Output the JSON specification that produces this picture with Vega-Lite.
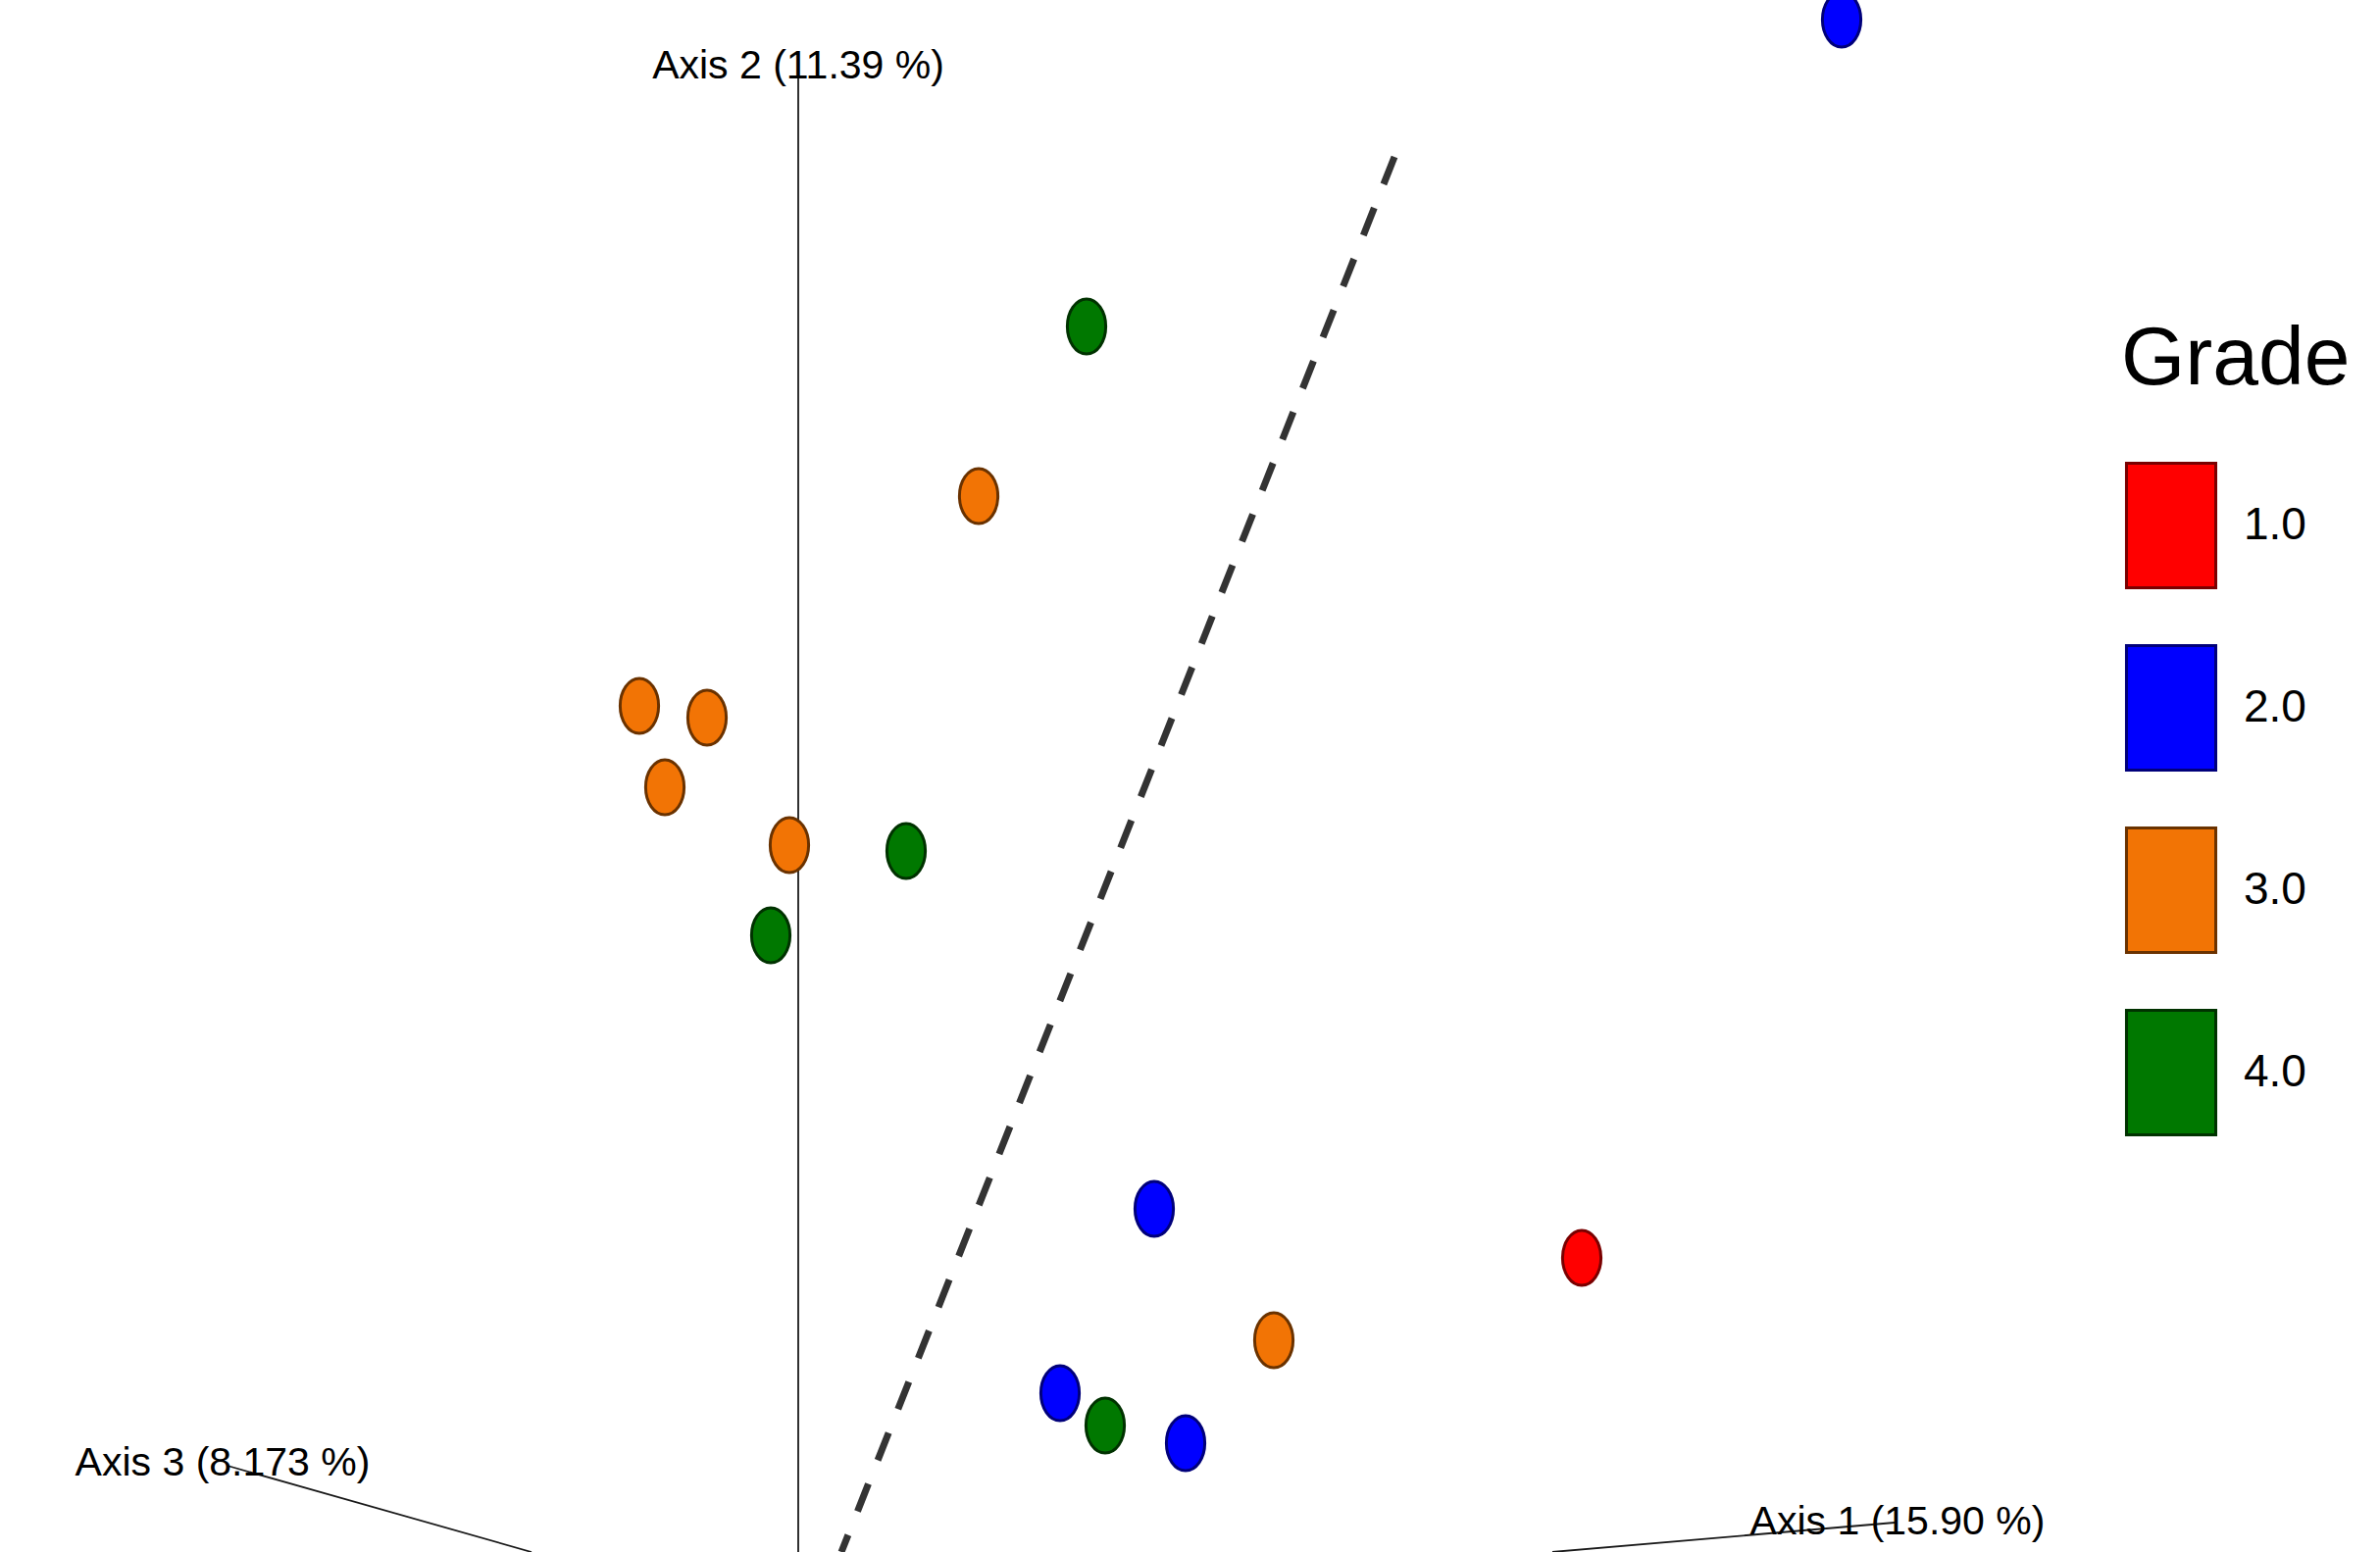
{
  "$schema": "https://vega.github.io/schema/vega-lite/v6.json",
  "width": 2427,
  "height": 1583,
  "autosize": {"type": "fit", "contains": "padding"},
  "padding": 0,
  "background": "white",
  "config": {"view": {"stroke": null}},
  "datasets": {
    "axes": [
      {"axis": "Axis 2", "x1": 814, "y1": 75, "x2": 814, "y2": 1583},
      {"axis": "Axis 3", "x1": 232, "y1": 1495, "x2": 542, "y2": 1583},
      {"axis": "Axis 1", "x1": 1583, "y1": 1583, "x2": 1932, "y2": 1553}
    ],
    "divider": [
      {"x1": 1422, "y1": 160, "x2": 858, "y2": 1583}
    ],
    "labels": [
      {"label": "Axis 2 (11.39 %)", "x": 814, "y": 80},
      {"label": "Axis 3 (8.173 %)", "x": 227, "y": 1505},
      {"label": "Axis 1 (15.90 %)", "x": 1935, "y": 1565}
    ],
    "samples": [
      {"grade": "2.0", "x": 1878, "y": 20},
      {"grade": "4.0", "x": 1108, "y": 333},
      {"grade": "3.0", "x": 998, "y": 506},
      {"grade": "3.0", "x": 652, "y": 720},
      {"grade": "3.0", "x": 721, "y": 732},
      {"grade": "3.0", "x": 678, "y": 803},
      {"grade": "3.0", "x": 805, "y": 862},
      {"grade": "4.0", "x": 924, "y": 868},
      {"grade": "4.0", "x": 786, "y": 954},
      {"grade": "2.0", "x": 1177, "y": 1233},
      {"grade": "1.0", "x": 1613, "y": 1283},
      {"grade": "3.0", "x": 1299, "y": 1367},
      {"grade": "2.0", "x": 1081, "y": 1421},
      {"grade": "4.0", "x": 1127, "y": 1454},
      {"grade": "2.0", "x": 1209, "y": 1472}
    ]
  },
  "layer": [
    {
      "data": {"name": "axes"},
      "mark": {"type": "rule", "color": "#1a1a1a", "strokeWidth": 1.8, "clip": true},
      "encoding": {
        "x": {"field": "x1", "type": "quantitative", "scale": {"domain": [0, 2427], "nice": false, "zero": false}, "axis": null},
        "y": {"field": "y1", "type": "quantitative", "scale": {"domain": [0, 1583], "nice": false, "zero": false, "reverse": true}, "axis": null},
        "x2": {"field": "x2"},
        "y2": {"field": "y2"}
      }
    },
    {
      "data": {"name": "divider"},
      "mark": {"type": "rule", "color": "#333333", "strokeWidth": 7, "strokeDash": [30, 26], "clip": true},
      "encoding": {
        "x": {"field": "x1", "type": "quantitative", "scale": {"domain": [0, 2427], "nice": false, "zero": false}, "axis": null},
        "y": {"field": "y1", "type": "quantitative", "scale": {"domain": [0, 1583], "nice": false, "zero": false, "reverse": true}, "axis": null},
        "x2": {"field": "x2"},
        "y2": {"field": "y2"}
      }
    },
    {
      "data": {"name": "samples"},
      "mark": {
        "type": "point",
        "filled": true,
        "opacity": 1,
        "clip": true,
        "shape": "M 0 -1 A 0.7 1 0 1 1 0 1 A 0.7 1 0 1 1 0 -1 Z",
        "size": 3136,
        "strokeWidth": 3
      },
      "encoding": {
        "x": {"field": "x", "type": "quantitative", "scale": {"domain": [0, 2427], "nice": false, "zero": false}, "axis": null},
        "y": {"field": "y", "type": "quantitative", "scale": {"domain": [0, 1583], "nice": false, "zero": false, "reverse": true}, "axis": null},
        "color": {
          "field": "grade",
          "type": "nominal",
          "scale": {"domain": ["1.0", "2.0", "3.0", "4.0"], "range": ["#ff0000", "#0000ff", "#f27405", "#007800"]},
          "legend": {
            "orient": "none",
            "legendX": 2163,
            "legendY": 326,
            "title": "Grade",
            "titleFont": "Liberation Sans",
            "titleFontSize": 84,
            "titleFontWeight": "normal",
            "titleColor": "#000000",
            "titleLimit": 1000,
            "titlePadding": 61,
            "symbolType": "M -0.717 -1 H 0.717 V 1 H -0.717 Z",
            "symbolSize": 16129,
            "symbolOffset": -14,
            "symbolStrokeColor": "#000000",
            "symbolStrokeWidth": 3,
            "symbolOpacity": 1,
            "labelFont": "Liberation Sans",
            "labelFontSize": 46,
            "labelColor": "#000000",
            "labelOffset": 9,
            "rowPadding": 46
          }
        },
        "stroke": {
          "field": "grade",
          "type": "nominal",
          "scale": {"domain": ["1.0", "2.0", "3.0", "4.0"], "range": ["#7a0000", "#00007a", "#6a3200", "#003200"]},
          "legend": null
        }
      }
    },
    {
      "data": {"name": "labels"},
      "mark": {"type": "text", "font": "Liberation Sans", "fontSize": 41, "color": "#000000", "align": "center", "baseline": "alphabetic"},
      "encoding": {
        "x": {"field": "x", "type": "quantitative", "scale": {"domain": [0, 2427], "nice": false, "zero": false}, "axis": null},
        "y": {"field": "y", "type": "quantitative", "scale": {"domain": [0, 1583], "nice": false, "zero": false, "reverse": true}, "axis": null},
        "text": {"field": "label"}
      }
    }
  ]
}
